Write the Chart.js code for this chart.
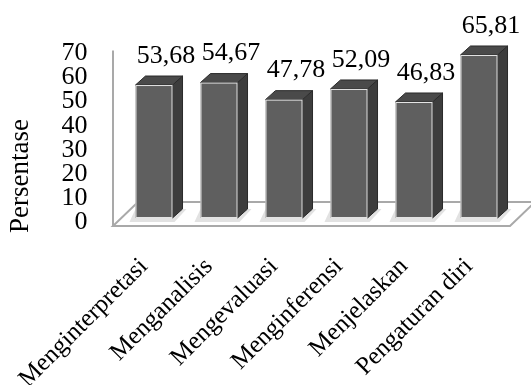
<!DOCTYPE html>
<html>
<head>
<meta charset="utf-8">
<script src="https://cdn.jsdelivr.net/npm/chart.js@4"></script>
<style>
  html, body { margin: 0; padding: 0; background: #fff; }
  #wrap { width: 531px; height: 385px; }
</style>
</head>
<body>
<div id="wrap"><canvas id="chart" width="531" height="385"></canvas></div>
<script>
// chart values
const categories = ['Menginterpretasi', 'Menganalisis', 'Mengevaluasi', 'Menginferensi', 'Menjelaskan', 'Pengaturan diri'];
const persentase = [53.68, 54.67, 47.78, 52.09, 46.83, 65.81];
const yTicks = [0, 10, 20, 30, 40, 50, 60, 70];

const serif = '"Liberation Serif", "Times New Roman", serif';
const depthX = 10, depthY = 9; // bar depth in px

// floor + left wall, drawn behind the bars
const floorPlugin = {
  id: 'floor',
  beforeDatasetsDraw(chart) {
    const ctx = chart.ctx;
    const area = chart.chartArea;
    const y0 = chart.scales.y.getPixelForValue(0) + 4;
    const left = area.left - 8.5;
    const right = area.right - 1.5;
    const top = chart.scales.y.getPixelForValue(70) - 3;
    ctx.save();
    ctx.strokeStyle = '#a9a9a9';
    ctx.lineWidth = 2;
    ctx.beginPath();
    ctx.moveTo(left, top);
    ctx.lineTo(left, y0);
    ctx.stroke();
    ctx.beginPath();
    ctx.moveTo(left, y0);
    ctx.lineTo(right, y0);
    ctx.lineTo(right + 25, y0 - 24);
    ctx.lineTo(left + 25, y0 - 24);
    ctx.closePath();
    ctx.stroke();
    // soft shadows at the foot of the bars
    const meta = chart.getDatasetMeta(0);
    ctx.fillStyle = '#e2e2e2';
    meta.data.forEach(bar => {
      const l = bar.x - bar.width / 2, r = bar.x + bar.width / 2, b = bar.base;
      ctx.beginPath();
      ctx.moveTo(l - 6, b + 4);
      ctx.lineTo(r + 2, b + 4);
      ctx.lineTo(r + depthX + 4, b - depthY);
      ctx.lineTo(l, b - depthY);
      ctx.closePath();
      ctx.fill();
    });
    ctx.restore();
  }
};

// side + top faces of each bar and the value labels
const bar3dPlugin = {
  id: 'bar3d',
  afterDatasetsDraw(chart) {
    const ctx = chart.ctx;
    const meta = chart.getDatasetMeta(0);
    ctx.save();
    meta.data.forEach((bar, i) => {
      const l = bar.x - bar.width / 2, r = bar.x + bar.width / 2;
      const t = bar.y, b = bar.base;
      // side
      ctx.beginPath();
      ctx.moveTo(r, t);
      ctx.lineTo(r + depthX, t - depthY);
      ctx.lineTo(r + depthX, b - depthY);
      ctx.lineTo(r, b);
      ctx.closePath();
      ctx.fillStyle = '#3d3d3d';
      ctx.fill();
      ctx.strokeStyle = '#2a2a2a';
      ctx.lineWidth = 1;
      ctx.stroke();
      // top
      ctx.beginPath();
      ctx.moveTo(l, t);
      ctx.lineTo(l + depthX, t - depthY);
      ctx.lineTo(r + depthX, t - depthY);
      ctx.lineTo(r, t);
      ctx.closePath();
      ctx.fillStyle = '#4a4a4a';
      ctx.fill();
      ctx.stroke();
      // front edge highlight
      ctx.strokeStyle = '#e4e4e4';
      ctx.strokeRect(l + 0.5, t + 0.5, bar.width - 1, b - t - 1);

      const txt = persentase[i].toFixed(2).replace('.', ',');
      ctx.fillStyle = '#000';
      ctx.font = '26px ' + serif;
      ctx.textAlign = 'center';
      ctx.textBaseline = 'middle';
      ctx.fillText(txt, bar.x + 12, t - 29);
    });
    ctx.restore();
  }
};

function draw() {
  new Chart(document.getElementById('chart'), {
    type: 'bar',
    data: {
      labels: categories,
      datasets: [{
        data: persentase,
        yAxisID: 'yb',
        backgroundColor: '#5f5f5f',
        borderWidth: 0,
        categoryPercentage: 1,
        barPercentage: 0.57
      }]
    },
    options: {
      responsive: false,
      animation: false,
      layout: { padding: { top: 53.5, right: 19.5, left: 0, bottom: 0 } },
      plugins: { legend: { display: false }, tooltip: { enabled: false } },
      scales: {
        x: {
          grid: { display: false, drawTicks: false },
          border: { display: false },
          ticks: {
            color: '#000',
            font: { family: serif, size: 25 },
            minRotation: 45,
            maxRotation: 45,
            autoSkip: false,
            labelOffset: -10,
            padding: 19
          },
          afterFit(s) { s.height = 152; }
        },
        y: {
          position: 'left',
          min: -4.57,
          max: 70,
          grid: { display: false, drawTicks: false },
          border: { display: false },
          ticks: { color: '#000', font: { family: serif, size: 26 }, padding: 34, autoSkip: false },
          afterBuildTicks(s) { s.ticks = yTicks.map(v => ({ value: v })); },
          title: {
            display: true,
            text: 'Persentase',
            align: 'start',
            color: '#000',
            font: { family: serif, size: 27 },
            padding: { top: 5, bottom: 0 }
          },
          afterFit(s) { s.width = 121.5; }
        },
        yb: {
          display: false,
          min: -6.06,
          max: 66.41
        }
      }
    },
    plugins: [floorPlugin, bar3dPlugin]
  });
}

document.fonts.load('26px "Liberation Serif"').then(draw, draw);
</script>
</body>
</html>
